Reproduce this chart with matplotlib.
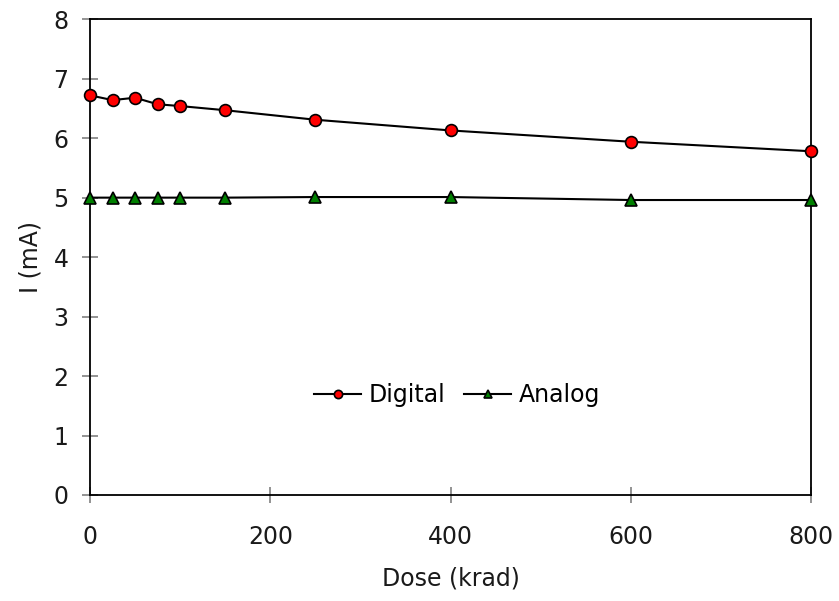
import matplotlib
matplotlib.use("Agg")
import matplotlib.pyplot as plt

dose = [0, 25, 50, 75, 100, 150, 250, 400, 600, 800]
digital = [6.72, 6.64, 6.68, 6.57, 6.54, 6.47, 6.31, 6.13, 5.94, 5.78]
analog = [5.0, 5.0, 5.0, 5.0, 5.0, 5.0, 5.01, 5.01, 4.96, 4.96]
xticks = [0, 200, 400, 600, 800]
yticks = [0, 1, 2, 3, 4, 5, 6, 7, 8]

plt.rcParams['font.family'] = ['DejaVu Sans']

fig = plt.figure(figsize=(8.39, 6.01), dpi=100)
ax = fig.add_axes([0.1073, 0.1764, 0.8593, 0.7916])

ax.plot(dose, digital, color='black', lw=1.5, marker='o', ms=8.5,
        mfc='red', mec='black', mew=1.2, label='Digital', zorder=3, clip_on=False)
ax.plot(dose, analog, color='black', lw=1.5, marker='^', ms=8.5,
        mfc='green', mec='black', mew=1.2, label='Analog', zorder=3, clip_on=False)

ax.set_xlim(0, 800)
ax.set_ylim(0, 8)
ax.set_xticks(xticks)
ax.set_yticks(yticks)
ax.tick_params(axis='both', direction='inout', length=11, width=1.2,
               color='#808080', labelsize=17, labelcolor='#1a1a1a')
ax.tick_params(axis='x', pad=16)
ax.tick_params(axis='y', pad=10)
for s in ax.spines.values():
    s.set_linewidth(1.3)
    s.set_color('black')
ax.set_xlabel('Dose (krad)', fontsize=17, color='#1a1a1a', labelpad=13)
ax.set_ylabel('I (mA)', fontsize=17, color='#1a1a1a', labelpad=8)

leg = ax.legend(loc='center', bbox_to_anchor=(0.509, 0.21), ncol=2, frameon=False,
                fontsize=17, markerscale=0.7, handlelength=2.0,
                handletextpad=0.3, columnspacing=0.8)

fig.savefig('out.png', dpi=100)
